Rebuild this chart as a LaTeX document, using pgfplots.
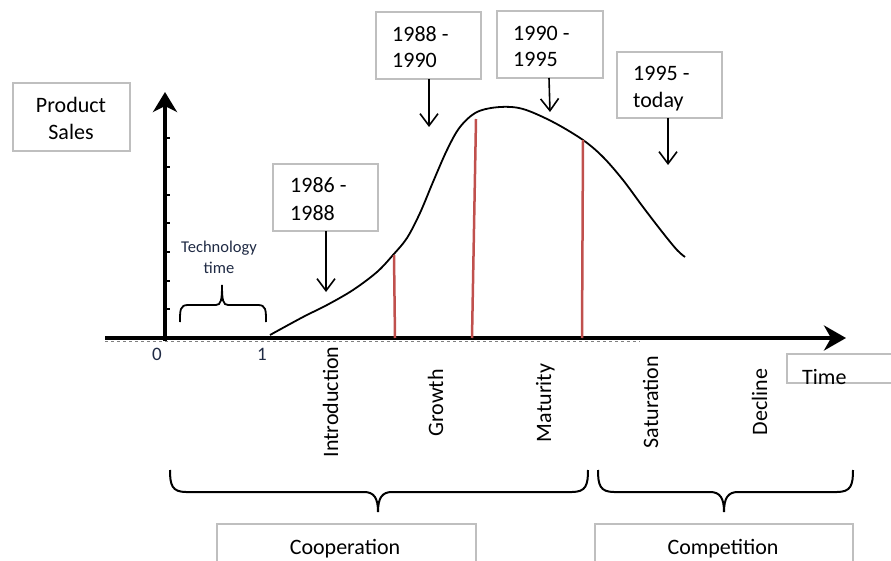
\documentclass[border=0pt]{standalone}
\usepackage{fontspec}
\setmainfont{Carlito}
\usepackage{pgfplots}
\pgfplotsset{compat=1.18}
\usetikzlibrary{arrows.meta}
\definecolor{boxgray}{RGB}{191,191,191}
\definecolor{redline}{RGB}{192,80,77}
\definecolor{navy}{RGB}{31,42,68}
\newcommand{\bigf}{\fontsize{22}{27}\selectfont}
\begin{document}
\begin{tikzpicture}
\begin{axis}[hide axis, scale only axis, width=891pt, height=561pt,
  xmin=0, xmax=891, ymin=0, ymax=561, y dir=reverse, clip=false,
  at={(0,0)}, anchor=south west]
% axes
\draw[line width=0.8pt, dashed, gray] (axis cs:105,341.5) -- (axis cs:640,341.5);
\draw[line width=4.5pt, -{Stealth[length=22pt,width=25pt,inset=7pt]}] (axis cs:105,338) -- (axis cs:846,338);
\draw[line width=4.5pt, -{Stealth[length=20pt,width=24pt,inset=6pt]}] (axis cs:165,341) -- (axis cs:165,92);
\pgfplotsinvokeforeach{138,167,195,223,252,281,309}{
  \draw[line width=2.5pt] (axis cs:165,#1) -- (axis cs:169.5,#1);
}
% curve
\addplot[black, line width=1.8pt, smooth, tension=0.55] coordinates {
(270,335) (303,317) (327,305) (353,290) (377,272) (393,255) (407,238)
(420,213) (433,182) (447,150) (460,127) (477,112) (500,107) (523,109)
(553,122) (583,140) (603,157) (623,180) (643,207) (663,233) (677,250) (685,257)};
% red lines
\addplot[redline, line width=2.5pt] coordinates {(394,255) (395,338)};
\addplot[redline, line width=2.5pt] coordinates {(476,119) (472,338)};
\addplot[redline, line width=2.5pt] coordinates {(583,140) (582,338)};
% tick labels
\node[font=\fontsize{19}{22}\selectfont, text=navy, anchor=base, inner sep=0pt] at (axis cs:157,360) {0};
\node[font=\fontsize{19}{22}\selectfont, text=navy, anchor=base, inner sep=0pt] at (axis cs:262,360) {1};
% boxes
\tikzset{gbox/.style={draw=boxgray, line width=2pt}}
\draw[gbox] (axis cs:13,83) rectangle (axis cs:130,151);
\node[font=\bigf, anchor=base, inner sep=0pt] at (axis cs:71,113) {Product};
\node[font=\bigf, anchor=base, inner sep=0pt] at (axis cs:71,140) {Sales};
\draw[gbox] (axis cs:273,164) rectangle (axis cs:378,231);
\node[font=\bigf, anchor=base west, inner sep=0pt] at (axis cs:290,193) {1986 -};
\node[font=\bigf, anchor=base west, inner sep=0pt] at (axis cs:290,220) {1988};
\draw[gbox] (axis cs:376,12) rectangle (axis cs:481,79);
\node[font=\bigf, anchor=base west, inner sep=0pt] at (axis cs:392,42) {1988 -};
\node[font=\bigf, anchor=base west, inner sep=0pt] at (axis cs:392,68) {1990};
\draw[gbox] (axis cs:497,11) rectangle (axis cs:603,78);
\node[font=\bigf, anchor=base west, inner sep=0pt] at (axis cs:513,41) {1990 -};
\node[font=\bigf, anchor=base west, inner sep=0pt] at (axis cs:513,67) {1995};
\draw[gbox] (axis cs:617,52) rectangle (axis cs:722,118);
\node[font=\bigf, anchor=base west, inner sep=0pt] at (axis cs:633,81) {1995 -};
\node[font=\bigf, anchor=base west, inner sep=0pt] at (axis cs:633,108) {today};
\draw[gbox] (axis cs:787,354) rectangle (axis cs:905,383);
\node[font=\bigf, anchor=base west, inner sep=0pt] at (axis cs:802,384) {Time};
\draw[gbox] (axis cs:217,524) rectangle (axis cs:476,580);
\node[font=\bigf, anchor=base, inner sep=0pt] at (axis cs:345,554) {Cooperation};
\draw[gbox] (axis cs:595,524) rectangle (axis cs:853,580);
\node[font=\bigf, anchor=base, inner sep=0pt] at (axis cs:723,554) {Competition};
% arrows from boxes
\tikzset{darr/.style={line width=1.6pt, -{Straight Barb[length=12pt,width=18pt]}}}
\draw[darr] (axis cs:326,231) -- (axis cs:326,292);
\draw[darr] (axis cs:429,79) -- (axis cs:429,127);
\draw[darr] (axis cs:549,78) -- (axis cs:550,112);
\draw[darr] (axis cs:668,118) -- (axis cs:668,165);
% technology time brace (tip up)
\draw[line width=1.8pt] (axis cs:180,322) .. controls (axis cs:180,310) and (axis cs:180,305) .. (axis cs:188,305)
  -- (axis cs:216,305) .. controls (axis cs:221,305) and (axis cs:222,300) .. (axis cs:222,285)
  .. controls (axis cs:222,300) and (axis cs:223,305) .. (axis cs:228,305)
  -- (axis cs:258,305) .. controls (axis cs:266,305) and (axis cs:266,310) .. (axis cs:266,322);
\node[font=\fontsize{16.5}{21}\selectfont, text=navy, anchor=base, inner sep=0pt] at (axis cs:219,252) {Technology};
\node[font=\fontsize{16.5}{21}\selectfont, text=navy, anchor=base, inner sep=0pt] at (axis cs:219,273) {time};
% phase labels
\node[font=\bigf, rotate=90, anchor=base, inner sep=0pt] at (axis cs:338,402) {Introduction};
\node[font=\bigf, rotate=90, anchor=base, inner sep=0pt] at (axis cs:443,403) {Growth};
\node[font=\bigf, rotate=90, anchor=base, inner sep=0pt] at (axis cs:551,403) {Maturity};
\node[font=\bigf, rotate=90, anchor=base, inner sep=0pt] at (axis cs:658,402) {Saturation};
\node[font=\bigf, rotate=90, anchor=base, inner sep=0pt] at (axis cs:767,402) {Decline};
% bottom braces (tip down)
\draw[line width=2pt] (axis cs:170,470) .. controls (axis cs:170,485) and (axis cs:172,492) .. (axis cs:186,492)
  -- (axis cs:364,492) .. controls (axis cs:374,492) and (axis cs:378,498) .. (axis cs:378,512)
  .. controls (axis cs:378,498) and (axis cs:382,492) .. (axis cs:392,492)
  -- (axis cs:572,492) .. controls (axis cs:586,492) and (axis cs:588,485) .. (axis cs:588,470);
\draw[line width=2pt] (axis cs:598,470) .. controls (axis cs:598,485) and (axis cs:600,492) .. (axis cs:614,492)
  -- (axis cs:710,492) .. controls (axis cs:720,492) and (axis cs:724,498) .. (axis cs:724,512)
  .. controls (axis cs:724,498) and (axis cs:728,492) .. (axis cs:738,492)
  -- (axis cs:837,492) .. controls (axis cs:851,492) and (axis cs:853,485) .. (axis cs:853,470);
\end{axis}
\pgfresetboundingbox
\path (0,0) rectangle (891pt,561pt);
\end{tikzpicture}
\end{document}
